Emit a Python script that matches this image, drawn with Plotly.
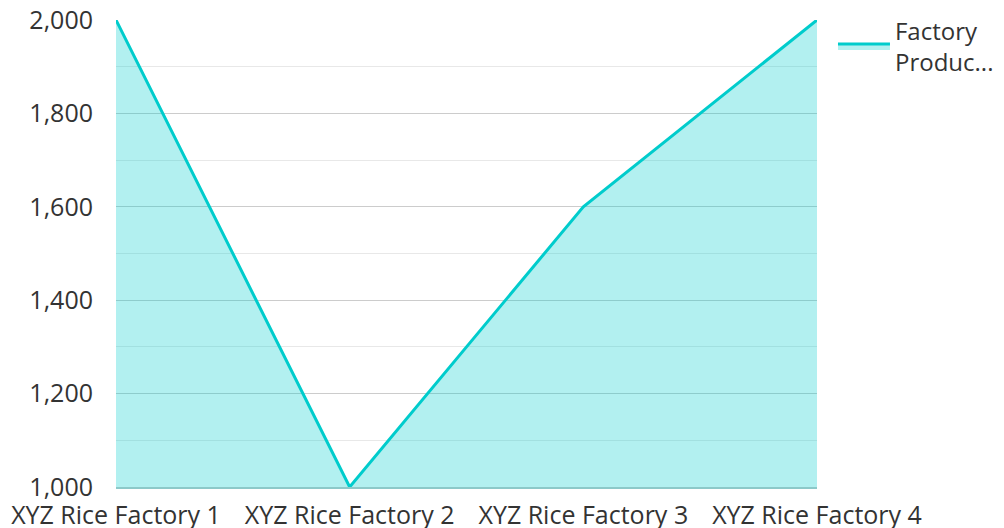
import plotly.graph_objects as go

categories = ["XYZ Rice Factory 1", "XYZ Rice Factory 2", "XYZ Rice Factory 3", "XYZ Rice Factory 4"]
production = [2000, 1000, 1600, 2000]
series_name = "Factory<br>Produc..."
y_ticks = [1000, 1200, 1400, 1600, 1800, 2000]
y_tick_labels = ["1,000", "1,200", "1,400", "1,600", "1,800", "2,000"]

fig = go.Figure()
fig.add_trace(go.Scatter(
    x=categories, y=production, mode="lines", name=series_name,
    line=dict(color="rgb(0,204,204)", width=3),
    fill="tozeroy", fillcolor="rgba(0,204,204,0.3)",
))

font = dict(family="Open Sans", size=25, color="#333333")
legend_font = dict(family="Open Sans", size=24, color="#333333")
fig.update_layout(
    width=996, height=520,
    margin=dict(l=108, r=187, t=12, b=41, autoexpand=False),
    paper_bgcolor="white", plot_bgcolor="white",
    font=font,
    showlegend=True,
    legend=dict(x=1.0228, xanchor="left", y=1.025, yanchor="top", font=legend_font,
                bgcolor="rgba(0,0,0,0)", tracegroupgap=0, itemwidth=52),
    xaxis=dict(type="category", range=[0, 3], showgrid=False, zeroline=False,
               showline=True, linecolor="rgb(140,201,201)", linewidth=2,
               ticks="", tickfont=font, automargin=False, ticklabelstandoff=5,
               ticklabeloverflow="allow"),
    yaxis=dict(range=[1000, 2000], tickvals=y_ticks, ticktext=y_tick_labels,
               showgrid=True, gridcolor="#cccccc", gridwidth=1, zeroline=False,
               showline=False, ticks="", tickfont=font, ticklabelstandoff=22,
               automargin=False, ticklabeloverflow="allow",
               minor=dict(dtick=100, showgrid=True, gridcolor="#e8e8e8", gridwidth=1)),
)
fig.write_html("out.html")
